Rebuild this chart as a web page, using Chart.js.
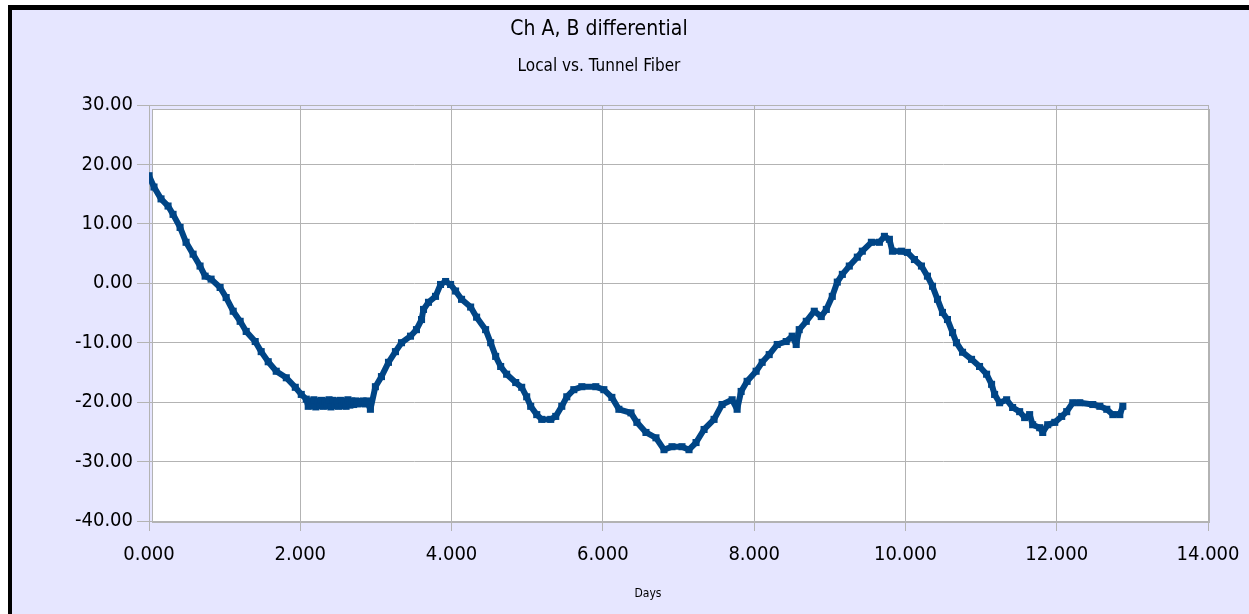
<!DOCTYPE html>
<html>
<head>
<meta charset="utf-8">
<script src="https://cdn.jsdelivr.net/npm/chart.js@4/dist/chart.umd.min.js"></script>
<style>
    html, body { margin: 0; padding: 0; background: #ffffff; overflow: hidden; }
    #frame {
        position: absolute; left: 8px; top: 5px; width: 1400px; height: 700px;
        background: #e6e6ff; border-top: 5px solid #000; border-left: 4px solid #000;
    }
    #diffChart { position: absolute; left: 0; top: 0; }
</style>
</head>
<body>
<div id="frame"></div>
<canvas id="diffChart" width="1249" height="614"></canvas>
<script>
const chartTitle = 'Ch A, B differential';
const chartSubtitle = 'Local vs. Tunnel Fiber';
const xAxisTitle = 'Days';

// elapsed time, days
const days = [
    0.000, 0.066, 0.159, 0.252, 0.318, 0.411, 0.490, 0.583, 0.675, 0.742,
    0.821, 0.940, 1.020, 1.113, 1.205, 1.285, 1.404, 1.483, 1.576, 1.682,
    1.815, 1.934, 2.013, 2.079, 2.105, 2.130, 2.155, 2.180, 2.205, 2.230,
    2.255, 2.280, 2.305, 2.330, 2.355, 2.380, 2.405, 2.430, 2.455, 2.480,
    2.505, 2.530, 2.555, 2.580, 2.605, 2.630, 2.655, 2.680, 2.705, 2.730,
    2.755, 2.780, 2.805, 2.830, 2.855, 2.880, 2.927, 2.993, 3.073, 3.166,
    3.258, 3.338, 3.457, 3.536, 3.603, 3.629, 3.695, 3.788, 3.854, 3.921,
    3.987, 4.053, 4.132, 4.252, 4.331, 4.450, 4.517, 4.583, 4.649, 4.728,
    4.848, 4.927, 4.993, 5.046, 5.126, 5.192, 5.311, 5.377, 5.457, 5.523,
    5.616, 5.722, 5.907, 6.013, 6.119, 6.212, 6.371, 6.450, 6.570, 6.702,
    6.808, 6.914, 7.046, 7.139, 7.232, 7.338, 7.470, 7.576, 7.709, 7.775,
    7.828, 7.907, 8.026, 8.106, 8.199, 8.305, 8.424, 8.503, 8.556, 8.596,
    8.689, 8.795, 8.887, 8.954, 9.033, 9.099, 9.166, 9.258, 9.364, 9.430,
    9.550, 9.656, 9.722, 9.788, 9.828, 9.947, 10.026, 10.119, 10.212, 10.291,
    10.358, 10.424, 10.490, 10.556, 10.623, 10.675, 10.755, 10.874, 10.980, 11.073,
    11.139, 11.179, 11.245, 11.338, 11.417, 11.510, 11.576, 11.642, 11.682, 11.775,
    11.815, 11.881, 11.974, 12.066, 12.132, 12.212, 12.305, 12.477, 12.570, 12.662,
    12.742, 12.834, 12.874
];

// Ch A - Ch B differential
const differential = [
    18.1, 16.2, 14.2, 13.0, 11.6, 9.4, 6.9, 4.9, 2.9, 1.2,
    0.7, -0.7, -2.4, -4.7, -6.4, -8.1, -9.8, -11.5, -13.2, -14.8,
    -15.9, -17.5, -18.7, -19.5, -20.7, -19.8, -20.6, -19.6, -20.8, -19.8,
    -20.6, -19.7, -20.7, -19.8, -20.6, -19.6, -20.8, -19.7, -20.6, -19.8,
    -20.7, -19.7, -20.6, -19.8, -20.7, -19.6, -20.5, -19.8, -20.4, -19.8,
    -20.3, -19.9, -20.2, -19.8, -20.3, -19.8, -21.2, -17.4, -15.7, -13.3,
    -11.5, -10.0, -8.9, -7.8, -6.1, -4.4, -3.2, -2.2, -0.2, 0.3,
    -0.2, -1.3, -2.7, -4.0, -5.7, -7.8, -10.0, -12.3, -14.0, -15.3,
    -16.7, -17.5, -19.1, -20.7, -22.1, -22.9, -22.9, -22.4, -20.7, -19.1,
    -17.9, -17.4, -17.4, -17.9, -19.2, -21.2, -21.8, -23.4, -25.1, -26.0,
    -28.0, -27.5, -27.5, -28.0, -26.8, -24.6, -22.9, -20.4, -19.6, -21.2,
    -18.2, -16.5, -14.8, -13.3, -12.0, -10.3, -9.8, -8.9, -10.3, -7.8,
    -6.4, -4.7, -5.6, -4.4, -2.2, 0.2, 1.5, 2.9, 4.4, 5.4,
    6.9, 6.9, 7.9, 7.4, 5.4, 5.4, 5.2, 4.0, 2.9, 1.2,
    -0.5, -2.7, -4.9, -6.1, -8.3, -10.0, -11.6, -12.8, -14.0, -15.3,
    -17.0, -18.7, -20.1, -19.6, -20.9, -21.6, -22.6, -22.1, -23.8, -24.3,
    -25.1, -23.8, -23.4, -22.4, -21.6, -20.1, -20.1, -20.4, -20.7, -21.2,
    -22.1, -22.1, -20.7
];

const FONT = '"DejaVu Sans Condensed", "DejaVu Sans"';
const GRID = '#b3b3b3';

// white plot panel with its own thin frame, slightly inset from the axes
const plotPanel = {
    id: 'plotPanel',
    beforeDraw(chart) {
        const { ctx, chartArea: a } = chart;
        ctx.save();
        ctx.fillStyle = '#ffffff';
        ctx.fillRect(a.left + 3, a.top + 4, a.right - a.left - 1, a.bottom - a.top - 2);
        ctx.strokeStyle = GRID;
        ctx.lineWidth = 1;
        ctx.strokeRect(a.left + 3.5, a.top + 4.5, a.right - a.left - 2, a.bottom - a.top - 3);
        ctx.restore();
    },
    afterDraw(chart) {
        const ctx = chart.ctx;
        ctx.save();
        ctx.fillStyle = '#000';
        ctx.font = '12px ' + FONT;
        ctx.textAlign = 'center';
        ctx.textBaseline = 'middle';
        ctx.fillText(xAxisTitle, 648, 594);
        ctx.restore();
    }
};

const ctx = document.getElementById('diffChart').getContext('2d');
const chart = new Chart(ctx, {
    type: 'line',
    data: {
        datasets: [{
            label: 'Ch A, B differential',
            data: days.map((d, i) => ({ x: d, y: differential[i] })),
            borderColor: '#004586',
            backgroundColor: '#004586',
            borderWidth: 6,
            borderJoinStyle: 'bevel',
            pointStyle: 'rect',
            pointRadius: 5,
            pointBorderWidth: 0,
            fill: false,
            tension: 0
        }]
    },
    options: {
        responsive: false,
        animation: false,
        layout: { padding: { left: -10, right: 41, top: 0, bottom: 0 } },
        plugins: {
            legend: { display: false },
            tooltip: { enabled: false },
            title: {
                display: true,
                text: chartTitle,
                color: '#000',
                font: { family: FONT, size: 21, weight: 'normal', lineHeight: 1.2 },
                padding: { top: 17.4, bottom: 0 }
            },
            subtitle: {
                display: true,
                text: chartSubtitle,
                color: '#000',
                font: { family: FONT, size: 17, weight: 'normal', lineHeight: 1.2 },
                padding: { top: 14.2, bottom: 27.8 }
            }
        },
        scales: {
            x: {
                type: 'linear',
                min: 0,
                max: 14,
                ticks: {
                    stepSize: 2,
                    color: '#000',
                    font: { family: FONT, size: 20 },
                    padding: 12,
                    maxRotation: 0,
                    callback: v => v.toFixed(3)
                },
                grid: { color: GRID, tickLength: 10 },
                border: { color: GRID },
                afterFit: s => { s.height = 93; s.paddingLeft = 0; s.paddingRight = 0; }
            },
            y: {
                min: -40,
                max: 30,
                ticks: {
                    stepSize: 10,
                    color: '#000',
                    font: { family: FONT, size: 20 },
                    padding: 4,
                    callback: v => v.toFixed(2)
                },
                grid: { color: GRID, tickLength: 12 },
                border: { color: GRID },
                afterFit: s => { s.width = 159; }
            }
        }
    },
    plugins: [plotPanel]
});
</script>
</body>
</html>
